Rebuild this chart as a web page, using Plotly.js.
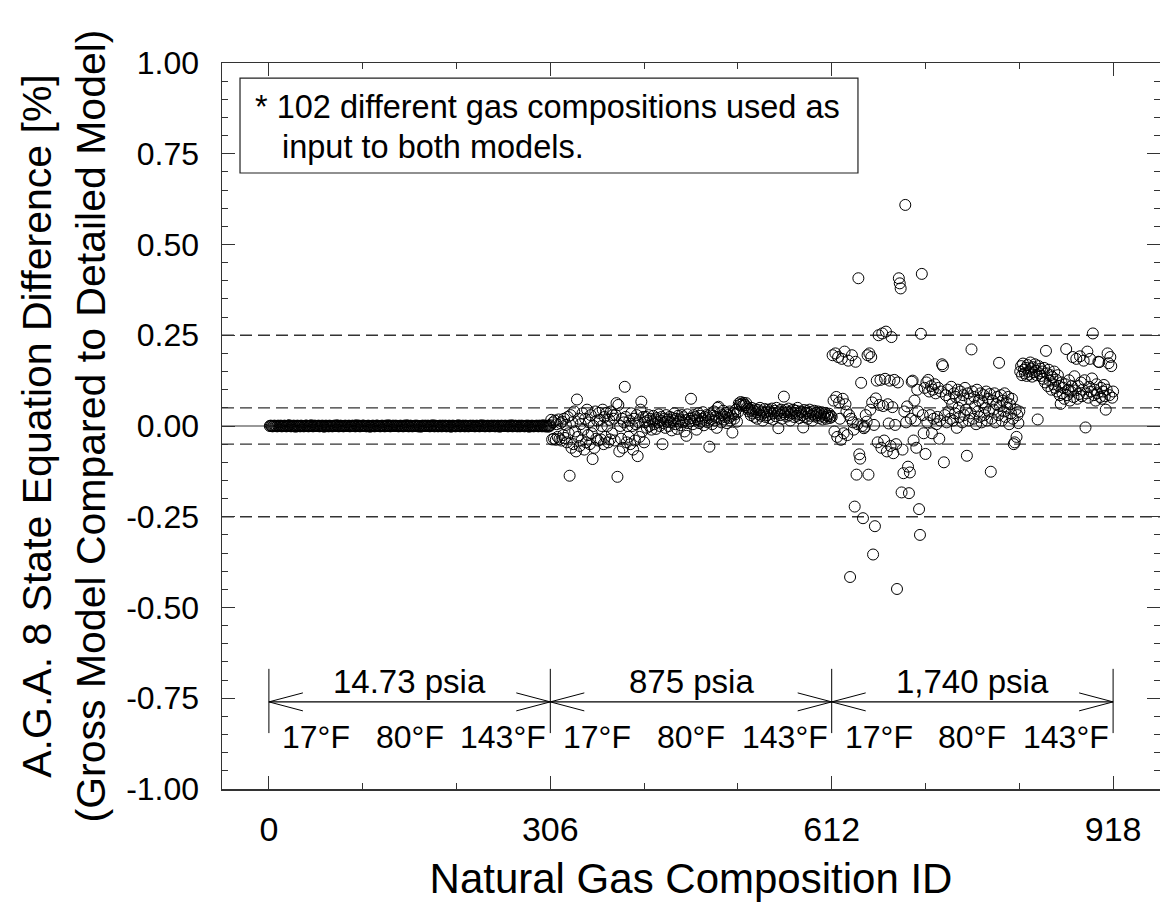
<!DOCTYPE html>
<html><head><meta charset="utf-8">
<script src="https://cdn.plot.ly/plotly-3.0.1.min.js"></script>
<style>html,body{margin:0;padding:0;background:#fff}#chart{width:1160px;height:913px}</style>
</head><body><div id="chart"></div>
<script>
// Difference [%] by composition ID, 14.73 psia block (IDs 1-306)
const diff1473psia = [
0,0.001,0,-0.001,0,0.001,0,0,-0.001,0.001,0,0,0.001,-0.001,0,0,0.001,
0,-0.001,0,0.001,0.002,0,-0.001,0,0,0.001,0,-0.002,0,0.001,0,0,-0.001,
0.001,0,0,-0.001,0,0.001,0.001,0,-0.001,0,0,0.002,0,-0.001,0,0.001,0,
0,0,0.001,-0.001,0,0,0.001,0,-0.002,0,0.001,0,0,-0.001,0.001,0,0,
-0.001,0,0.001,0,0,0.002,0,-0.001,0,0.001,0,0,-0.001,0,0.001,0,0,
0,0.001,-0.001,0,0,0.001,0,0,-0.001,0.002,0,0,0.001,-0.001,0,0,0.001,
0.001,0,0,-0.001,0,0.001,0,-0.002,0,0,0.001,0,-0.001,0,0.001,0.001,0,
0,-0.001,0,0.001,0,0,-0.001,0.001,0,0,0.002,0,-0.001,0,0,0.001,0,
0,0.001,0,0,-0.001,0,0.001,0,0,-0.001,0.001,0,0,0.002,0,-0.001,0,
0.001,0,-0.001,0,0,0.001,0,0.001,-0.001,0,0,-0.002,0,0.001,0,0,0.001,
0,0,0.001,0,-0.001,0,0,0.002,0,-0.001,0.001,0,0,-0.001,0,0.001,0,
-0.001,0.001,0,0,0.001,-0.001,0,0,0.001,0,-0.002,0,0.001,0,0,-0.001,0,
0,0.002,0,-0.001,0,0,0.001,0,-0.001,0.001,0,0,-0.001,0,0.001,0,0,
0.001,0,-0.001,0,0.001,0,0,-0.001,0,0.002,0,0,0.001,-0.001,0,0,0.001,
0,-0.001,0,0.001,0,0,0.001,-0.001,0,0,0.001,0,-0.002,0,0.001,0,0,
0,0.001,0,0,-0.001,0.001,0,0,0.002,-0.001,0,0,0.001,0,-0.001,0,0.001,
-0.001,0,0.001,0,0,-0.001,0,0.001,0,0.001,-0.002,0,0,0.001,0,-0.001,0,
0,0.001,0,-0.001,0.001,0,0,-0.001,0.002,0,-0.001,0.001,0,-0.002,0.001,-0.001,0.002
];
// 875 psia block (IDs 307-612)
const diff875psia = [
0.017,-0.037,0.010,-0.035,0.015,-0.038,0.005,-0.030,0.018,-0.036,0.008,-0.040,0.012,-0.025,0.020,-0.033,0.003,
-0.045,0.025,-0.020,-0.137,0.030,-0.060,0.010,-0.050,0.040,-0.015,-0.070,0.073,-0.030,0.020,-0.055,0.005,-0.040,
0.035,-0.010,-0.065,0.020,-0.045,0.045,-0.025,0.010,-0.050,0.030,-0.020,-0.091,0.000,-0.060,0.040,-0.035,0.015,
-0.040,0.036,0.017,-0.037,0.000,0.045,-0.050,0.025,-0.030,0.036,0.000,-0.045,0.017,-0.037,0.040,-0.020,0.030,
0.020,-0.040,0.030,0.063,-0.140,0.058,-0.070,0.000,-0.035,0.020,-0.060,0.010,0.108,0.025,-0.045,0.000,-0.030,
0.015,-0.050,0.035,0.000,-0.065,0.020,-0.040,0.005,0.030,-0.083,0.010,-0.030,0.045,0.067,-0.015,0.025,-0.045,
0.010,0.025,-0.005,0.015,0.030,0.000,0.020,-0.010,0.012,0.028,0.005,0.018,-0.008,0.022,0.010,0.032,0.000,
0.015,0.025,-0.050,0.008,0.020,-0.005,0.030,0.012,0.018,0.000,0.025,0.010,-0.012,0.022,0.015,0.035,0.005,
0.020,-0.008,0.028,0.012,0.018,0.002,0.030,0.010,0.024,-0.015,0.016,-0.027,0.032,0.008,0.020,0.014,0.075,
0.022,0.005,0.030,0.015,0.025,-0.010,0.018,0.035,0.008,0.028,0.012,0.020,0.038,0.002,0.025,0.015,0.030,
0.010,0.022,-0.057,0.032,0.018,0.005,0.028,0.040,0.015,0.025,-0.005,0.050,0.053,0.020,0.035,0.010,0.030,
0.042,0.018,0.025,0.036,0.008,0.030,0.022,0.040,0.015,0.028,-0.018,0.035,0.020,0.032,0.045,0.012,0.038,
0.062,0.058,0.066,0.060,0.055,0.064,0.059,0.057,0.063,0.052,0.048,0.040,0.045,0.030,0.050,0.035,0.042,
0.025,0.046,0.038,0.020,0.044,0.032,0.050,0.028,0.040,0.015,0.036,0.047,0.025,0.038,0.030,0.045,0.022,
0.040,0.033,0.048,0.018,0.036,0.042,0.027,0.050,0.035,-0.006,0.040,0.030,0.045,0.020,0.038,0.081,0.032,
0.044,0.026,0.038,0.048,0.030,0.015,0.040,0.035,0.045,0.025,0.036,0.042,0.028,0.050,0.033,0.022,0.040,
0.038,0.030,-0.004,0.044,0.025,0.036,0.041,0.020,0.035,0.045,0.028,0.038,0.015,0.032,0.042,0.026,0.036,
0.030,0.040,0.022,0.035,0.028,0.038,0.018,0.032,0.025,0.036,0.020,0.030,0.027,0.034,0.022,0.028,0.025
];
// 1,740 psia block (IDs 613-918)
const diff1740psia = [
0.195,0.070,-0.015,0.200,0.080,-0.030,0.190,0.065,0.020,-0.038,0.185,0.075,-0.020,0.205,0.060,0.040,-0.025,
0.180,0.030,-0.416,0.020,0.195,0.010,-0.010,-0.222,0.177,-0.134,0.005,0.407,-0.078,-0.090,0.119,0.000,-0.254,
-0.006,-0.002,0.030,0.012,0.195,-0.134,0.200,0.045,0.190,0.065,-0.354,0.003,-0.276,0.076,0.125,-0.045,0.250,
0.058,0.127,-0.060,0.255,0.055,-0.040,0.130,0.260,-0.070,0.060,0.007,0.125,-0.055,0.245,0.052,-0.075,0.127,
0.003,-0.050,-0.449,0.120,0.407,0.393,0.379,-0.183,-0.065,-0.130,0.040,0.609,0.010,0.054,-0.112,-0.185,-0.128,
0.020,0.122,0.125,-0.040,0.070,0.015,-0.060,0.100,0.040,-0.229,-0.300,0.254,0.419,0.030,-0.020,0.105,-0.077,
0.120,0.010,0.127,0.095,0.030,0.110,-0.020,0.100,0.020,0.115,0.090,0.005,0.025,0.105,-0.035,0.015,0.095,
0.170,0.165,-0.100,0.030,0.085,0.010,0.100,0.040,0.075,0.020,0.108,0.060,0.015,0.090,0.035,0.080,-0.005,
0.100,0.050,0.025,0.095,0.070,0.010,0.085,0.030,0.105,0.045,-0.082,0.090,0.015,0.075,0.035,0.211,0.095,
0.020,0.080,0.055,0.005,0.100,0.040,0.070,0.025,0.090,0.010,0.065,0.085,0.030,0.050,0.095,0.015,0.075,
0.040,0.088,-0.126,0.020,0.070,0.045,0.090,0.010,0.060,0.080,0.030,0.174,0.055,0.085,0.015,0.070,0.040,
0.090,0.025,0.065,0.050,0.080,0.005,0.060,0.035,0.075,0.020,-0.050,-0.045,0.045,-0.030,0.030,0.008,0.040,
0.150,0.165,0.140,0.172,0.155,0.145,0.160,0.138,0.168,0.150,0.142,0.175,0.158,0.136,0.162,0.148,0.170,
0.152,0.140,0.018,0.165,0.145,0.158,0.138,0.150,0.130,0.160,0.120,0.207,0.145,0.110,0.155,0.125,0.140,
0.100,0.135,0.115,0.150,0.105,0.128,0.095,0.140,0.110,0.085,0.061,0.120,0.090,0.105,0.075,0.115,0.212,
0.085,0.100,0.126,0.070,0.095,0.110,0.190,0.080,0.137,0.098,0.185,0.075,0.110,0.088,0.192,0.120,0.082,
0.100,0.180,0.126,-0.004,0.090,0.205,0.078,0.108,0.185,0.095,0.131,0.255,0.085,0.100,0.070,0.115,0.090,
0.177,0.176,0.080,0.105,0.075,0.095,0.113,0.082,0.045,0.100,0.200,0.173,0.085,0.190,0.165,0.078,0.095
];

const xTickVals = [0, 306, 612, 918];
const yTickVals = [1, 0.75, 0.5, 0.25, 0, -0.25, -0.5, -0.75, -1];
const yTickText = ['1.00', '0.75', '0.50', '0.25', '0.00', '-0.25', '-0.50', '-0.75', '-1.00'];
const pressureBounds = [0, 306, 612, 918];
const pressureLabels = ['14.73 psia', '875 psia', '1,740 psia'];
const temperatureLabels = ['17°F', '80°F', '143°F'];
const dashedLevels = [0.25, 0.05, -0.05, -0.25];
const noteLines = ['* 102 different gas compositions used as', 'input to both models.'];

const allDiff = diff1473psia.concat(diff875psia, diff1740psia);
const compositionId = allDiff.map((_, i) => i + 1);

const FONT = 'Liberation Sans, Arial, Helvetica, sans-serif';
const ARROW_Y = -0.76, BAR_TOP = -0.669, BAR_BOTTOM = -0.846;
const P_LABEL_Y = -0.705, T_LABEL_Y = -0.856;

const shapes = [];
dashedLevels.forEach(v => shapes.push({type:'line', xref:'paper', x0:0, x1:1, yref:'y', y0:v, y1:v,
  line:{color:'#333', width:1.3, dash:'12px,6px'}, layer:'below'}));
shapes.push({type:'line', xref:'paper', x0:0, x1:1, yref:'y', y0:0, y1:0, line:{color:'#333', width:1}, layer:'below'});
pressureBounds.forEach(b => shapes.push({type:'line', xref:'x', yref:'y', x0:b, x1:b, y0:BAR_BOTTOM, y1:BAR_TOP,
  line:{color:'#000', width:1}}));
for (let i = 0; i < pressureLabels.length; i++) {
  const a = pressureBounds[i], b = pressureBounds[i+1];
  shapes.push({type:'line', xref:'x', yref:'y', x0:a, x1:b, y0:ARROW_Y, y1:ARROW_Y, line:{color:'#000', width:1.2}});
  shapes.push({type:'path', xref:'x', yref:'y', xsizemode:'pixel', ysizemode:'pixel', xanchor:a, yanchor:ARROW_Y,
    path:'M 34 9 L 0 0 L 34 -9', line:{color:'#000', width:1}});
  shapes.push({type:'path', xref:'x', yref:'y', xsizemode:'pixel', ysizemode:'pixel', xanchor:b, yanchor:ARROW_Y,
    path:'M -34 9 L 0 0 L -34 -9', line:{color:'#000', width:1}});
}
// note box
shapes.push({type:'rect', xref:'paper', yref:'paper', x0:0.0192, x1:0.678, y0:0.8485, y1:0.9793,
  line:{color:'#222', width:1.2}, fillcolor:'#fff', layer:'above'});

const annotations = [];
for (let i = 0; i < pressureLabels.length; i++) {
  const a = pressureBounds[i], b = pressureBounds[i+1];
  annotations.push({x:(a+b)/2, y:P_LABEL_Y, xref:'x', yref:'y', text:pressureLabels[i], showarrow:false,
    font:{family:FONT, size:33, color:'#000'}});
  const w = (b - a) / temperatureLabels.length;
  temperatureLabels.forEach((t, j) => annotations.push({x:a + (j+0.5)*w, y:T_LABEL_Y, xref:'x', yref:'y', text:t,
    showarrow:false, font:{family:FONT, size:32, color:'#000'}}));
}
annotations.push({xref:'paper', yref:'paper', x:0.033, y:0.9398, xanchor:'left', yanchor:'middle',
  text:noteLines[0], showarrow:false, font:{family:FONT, size:32.5, color:'#000'}});
annotations.push({xref:'paper', yref:'paper', x:0.0618, y:0.8845, xanchor:'left', yanchor:'middle',
  text:noteLines[1], showarrow:false, font:{family:FONT, size:32.5, color:'#000'}});

const trace = {
  x: compositionId, y: allDiff, type:'scatter', mode:'markers',
  marker:{symbol:'circle-open', size:11, color:'#000', line:{width:1, color:'#000'}},
  hoverinfo:'x+y', showlegend:false
};

const layout = {
  width:1160, height:913,
  margin:{l:222, r:0, t:63, b:124},
  paper_bgcolor:'#fff', plot_bgcolor:'#fff',
  font:{family:FONT, color:'#000'},
  xaxis:{
    range:[-51, 969], tickvals:xTickVals, ticks:'inside', ticklen:13, tickwidth:1, tickcolor:'#333',
    showline:true, linecolor:'#333', linewidth:1.5, mirror:'ticks', showgrid:false, zeroline:false,
    minor:{tickvals:[102,204,408,510,714,816], ticks:'inside', ticklen:6, tickcolor:'#333', showgrid:false},
    tickfont:{family:FONT, size:34, color:'#000'}, ticklabelstandoff:10,
    title:{text:'Natural Gas Composition ID', font:{family:FONT, size:42, color:'#000'}, standoff:16}
  },
  yaxis:{
    range:[-1, 1], tickvals:yTickVals, ticktext:yTickText, ticks:'inside', ticklen:13, tickwidth:1, tickcolor:'#333',
    showline:true, linecolor:'#333', linewidth:1.5, mirror:'ticks', showgrid:false, zeroline:false,
    minor:{dtick:0.05, ticks:'inside', ticklen:6, tickcolor:'#333', showgrid:false},
    tickfont:{family:FONT, size:32, color:'#000'}, ticklabelstandoff:15,
    title:{text:'A.G.A. 8 State Equation Difference [%]<br>(Gross Model Compared to Detailed Model)',
      font:{family:FONT, size:41, color:'#000'}, standoff:8}
  },
  shapes:shapes, annotations:annotations
};

Plotly.newPlot('chart', [trace], layout, {displayModeBar:false, staticPlot:true});
</script>
</body></html>
